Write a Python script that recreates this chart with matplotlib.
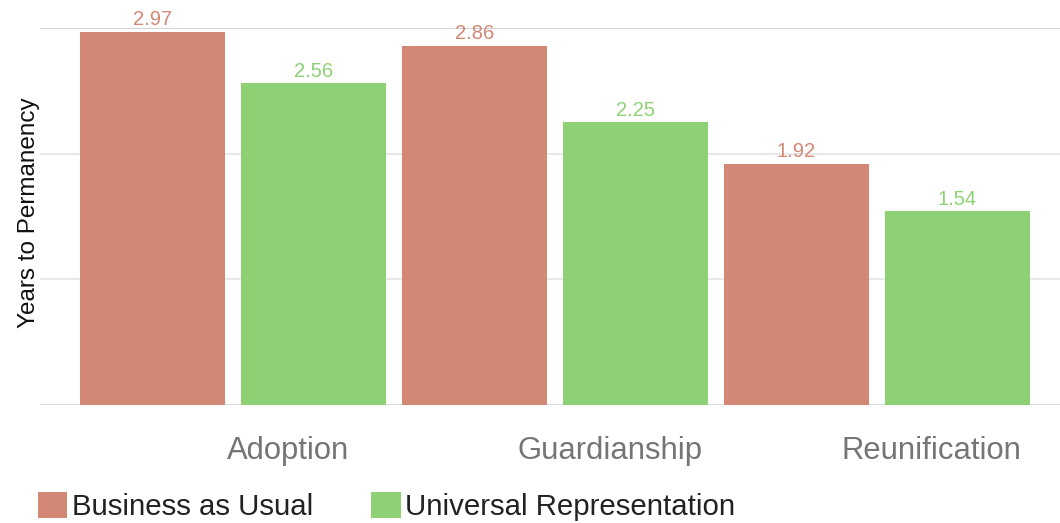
import numpy as np
import matplotlib.pyplot as plt
from matplotlib.patches import Patch

plt.rcParams['font.family'] = ['Liberation Sans', 'DejaVu Sans']

# data
categories = ['Adoption', 'Guardianship', 'Reunification']
series_names = ['Business as Usual', 'Universal Representation']
business_as_usual = [2.97, 2.86, 1.92]
universal_rep = [2.56, 2.25, 1.54]
colors = ['#d38875', '#8ed174']

fig = plt.figure(figsize=(10.6, 5.23), dpi=100)
ax = fig.add_axes([0.0377, 0.2256, 0.9623, 0.7208])

groups = np.arange(len(categories)) * 2
for s, (vals, col) in enumerate(zip([business_as_usual, universal_rep], colors)):
    xs = groups + s
    ax.bar(xs, vals, width=0.9, color=col, zorder=2)
    for x, v in zip(xs, vals):
        ax.text(x, v + 0.02, f'{v:.2f}', ha='center', va='bottom',
                color=col, fontsize=14.5, clip_on=False)

ax.set_xlim(-0.699, 5.637)
ax.set_ylim(0, 3)

# gridlines
for y in [0, 1, 2, 3]:
    c = '#cccccc' if y == 3 else ('#d6d6d6' if y == 0 else '#e4e4e4')
    ax.axhline(y, color=c, lw=1.2, zorder=1)

for sp in ax.spines.values():
    sp.set_visible(False)
ax.set_yticks([])
ax.set_xticks(groups + 0.84)
ax.set_xticklabels(categories, fontsize=22.3, color='#757575')
ax.tick_params(axis='x', length=0, pad=22)

ax.set_ylabel('Years to Permanency', fontsize=17.5, color='#111111')
ax.yaxis.set_label_coords(0.0, 0.51)

handles = [Patch(facecolor=c, edgecolor='none') for c in colors]
fig.legend(handles, series_names, loc='lower left', bbox_to_anchor=(0.022, -0.025),
           ncol=2, frameon=False, fontsize=21.2, handlelength=1.0, handleheight=1.0,
           handletextpad=0.15, columnspacing=1.98, borderaxespad=0.1,
           labelcolor='#222222')

fig.savefig('out.png', dpi=100)
